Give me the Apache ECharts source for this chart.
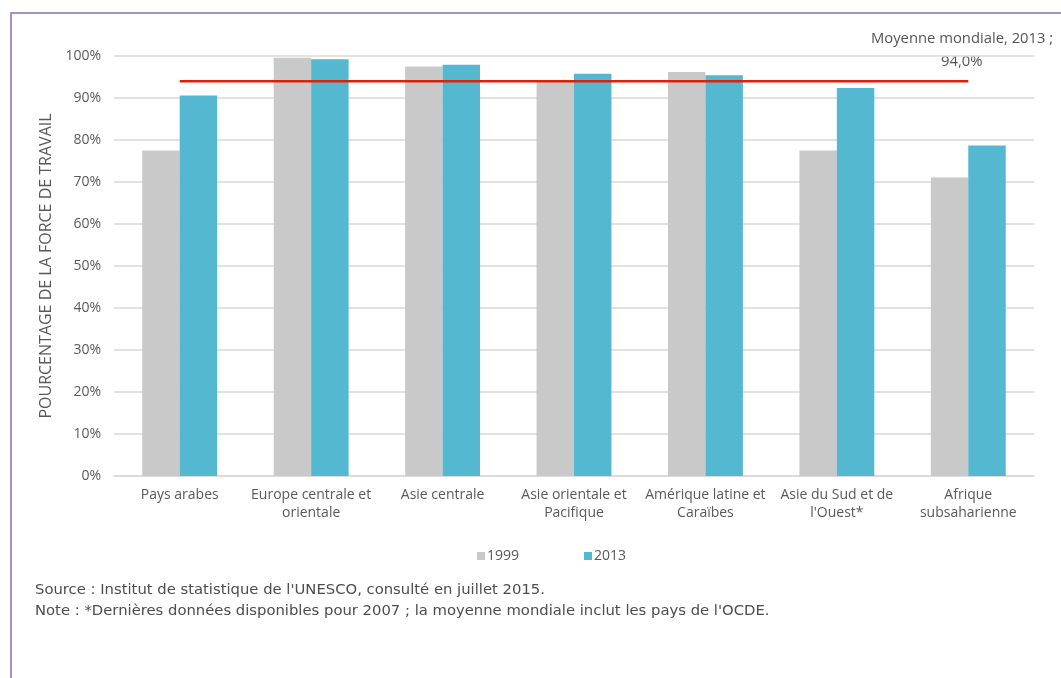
<!DOCTYPE html>
<html>
<head>
<meta charset="utf-8">
<script src="https://cdn.jsdelivr.net/npm/echarts@6/dist/echarts.min.js"></script>
<style>
  html, body { margin: 0; padding: 0; background: #fff; }
  #chart { width: 1061px; height: 678px; }
</style>
</head>
<body>
<div id="chart"></div>
<script>
// Régions
const categories = [
  "Pays arabes",
  "Europe centrale et\norientale",
  "Asie centrale",
  "Asie orientale et\nPacifique",
  "Amérique latine et\nCaraïbes",
  "Asie du Sud et de\nl'Ouest*",
  "Afrique\nsubsaharienne"
];
// Pourcentage de la force de travail, 1999 et 2013
const values1999 = [77.5, 99.6, 97.5, 93.9, 96.2, 77.5, 71.1];
const values2013 = [90.6, 99.2, 97.9, 95.8, 95.4, 92.4, 78.7];
// Moyenne mondiale 2013
const worldAvg = 94.0;
const yTicks = [0, 10, 20, 30, 40, 50, 60, 70, 80, 90, 100];

const FONT = "'Open Sans', 'Noto Sans', sans-serif";
const NOTE_FONT = "'DejaVu Sans', 'Open Sans', sans-serif";
const TXT = '#595959';

const chart = echarts.init(document.getElementById('chart'), null, { renderer: 'canvas' });

chart.setOption({
  animation: false,
  textStyle: { fontFamily: FONT },
  grid: { left: 114, right: 27, top: 56, bottom: 202, containLabel: false },
  legend: {
    data: ['1999', '2013'],
    left: 472, top: 544,
    icon: 'rect', itemWidth: 8, itemHeight: 8, itemGap: 65,
    textStyle: { color: TXT, fontSize: 14, fontFamily: FONT, padding: [0, 0, 0, -3] }
  },
  xAxis: {
    type: 'category',
    data: categories,
    axisLine: { show: true, lineStyle: { color: '#d9d9d9', width: 1.5 } },
    axisTick: { show: false },
    axisLabel: { interval: 0, color: TXT, fontSize: 14, lineHeight: 18, margin: 10, fontFamily: FONT }
  },
  yAxis: {
    type: 'value',
    min: yTicks[0], max: yTicks[yTicks.length - 1], interval: 10,
    name: 'POURCENTAGE DE LA FORCE DE TRAVAIL',
    nameLocation: 'middle', nameGap: 58, nameRotate: 90,
    nameTextStyle: { color: TXT, fontSize: 16, fontFamily: FONT },
    axisLine: { show: false }, axisTick: { show: false },
    axisLabel: { color: TXT, fontSize: 14, margin: 13, formatter: v => v + '%', fontFamily: FONT },
    splitLine: { lineStyle: { color: '#d9d9d9', width: 1.5 } }
  },
  series: [
    {
      name: '1999', type: 'bar', data: values1999,
      barGap: '0%', barCategoryGap: '43%',
      itemStyle: { color: '#c9c9c9' }
    },
    {
      name: '2013', type: 'bar', data: values2013,
      barGap: '0%', barCategoryGap: '43%',
      itemStyle: { color: '#53b8d0' }
    },
    {
      name: 'Moyenne mondiale', type: 'line',
      data: categories.map(() => worldAvg),
      symbol: 'none', z: 5, silent: true,
      lineStyle: { color: '#e01e0c', width: 2.5 }
    }
  ],
  graphic: [
    {
      type: 'rect', silent: true,
      shape: { x: 11, y: 13, width: 1070, height: 700 },
      style: { fill: 'none', stroke: '#8d6fae', lineWidth: 1.5 }
    },
    {
      type: 'text', left: 871, top: 31,
      style: { text: 'Moyenne mondiale, 2013 ;', fill: '#555', fontSize: 14.8, fontFamily: FONT }
    },
    {
      type: 'text', left: 941, top: 54,
      style: { text: worldAvg.toFixed(1).replace('.', ',') + '%', fill: '#555', fontSize: 14.8, fontFamily: FONT }
    },
    {
      type: 'text', left: 35, top: 583,
      style: { text: "Source : Institut de statistique de l'UNESCO, consulté en juillet 2015.", fill: '#4d4d4d', fontSize: 14.8, fontFamily: NOTE_FONT }
    },
    {
      type: 'text', left: 35, top: 604,
      style: { text: "Note : *Dernières données disponibles pour 2007 ; la moyenne mondiale inclut les pays de l'OCDE.", fill: '#4d4d4d', fontSize: 14.8, fontFamily: NOTE_FONT }
    }
  ]
});
</script>
</body>
</html>
